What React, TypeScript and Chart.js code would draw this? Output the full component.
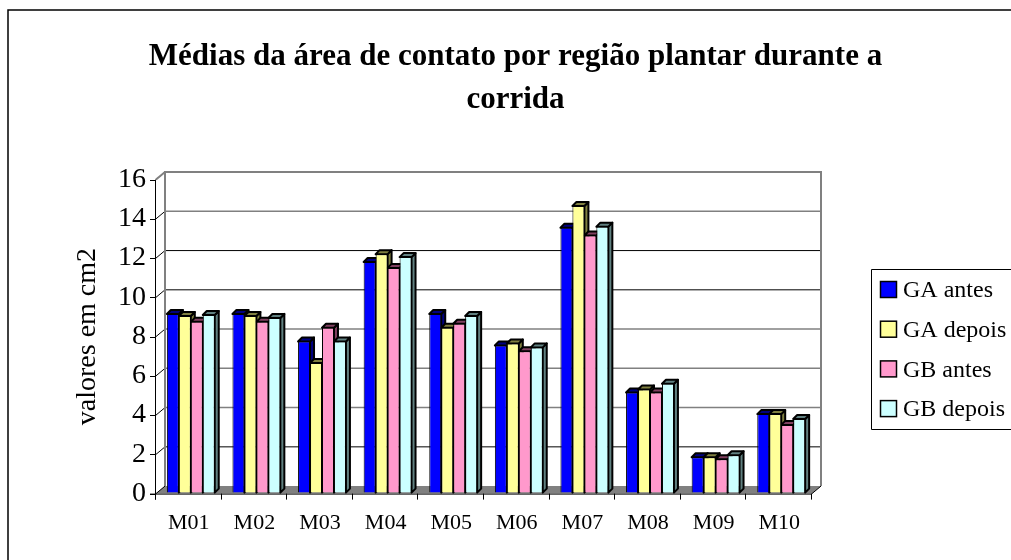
import React, { useEffect, useRef } from "react";
import { Chart, registerables } from "chart.js";

Chart.register(...registerables);

const categories = ["M01", "M02", "M03", "M04", "M05", "M06", "M07", "M08", "M09", "M10"];
const gaAntes = [9.15, 9.15, 7.75, 11.8, 9.15, 7.55, 13.55, 5.15, 1.85, 4.05];
const gaDepois = [9.05, 9.05, 6.65, 12.2, 8.45, 7.65, 14.65, 5.3, 1.85, 4.05];
const gbAntes = [8.75, 8.75, 8.45, 11.5, 8.65, 7.25, 13.15, 5.15, 1.75, 3.5];
const gbDepois = [9.1, 8.95, 7.75, 12.05, 9.05, 7.45, 13.6, 5.6, 1.95, 3.8];
const titleLines = ["Médias da área de contato por região plantar durante a", "corrida"];
const yTitle = "valores em cm2";
const SERIF = "'Liberation Serif', serif";
const DX = 9;
const DY = 7.5;
const BAR_DX = 4;
const BAR_DY = 4;
const BAR_SHIFT = 2;
const blackGrid = [0, 2, 10, 12];

const sideColors = ["#000080", "#808040", "#804060", "#608080"];

const chart3d = {
  id: "chart3d",
  afterDatasetsUpdate(chart: any) {
    chart.data.datasets.forEach((_: any, i: number) => {
      chart.getDatasetMeta(i).data.forEach((b: any) => {
        b.x += BAR_SHIFT;
        b.base -= 1;
      });
    });
  },
  beforeDraw(chart: any) {
    const { ctx } = chart;
    ctx.save();
    ctx.fillStyle = "#fff";
    ctx.fillRect(0, 0, chart.width, chart.height);
    ctx.strokeStyle = "#000";
    ctx.lineWidth = 1.5;
    ctx.beginPath();
    ctx.moveTo(8, chart.height);
    ctx.lineTo(8, 10);
    ctx.lineTo(chart.width, 10);
    ctx.stroke();
    ctx.restore();
  },
  beforeDatasetsDraw(chart: any) {
    const { ctx, chartArea: a, scales } = chart;
    const y = scales.y;
    ctx.save();
    ctx.fillStyle = "#808080";
    ctx.beginPath();
    ctx.moveTo(a.left, a.bottom);
    ctx.lineTo(a.right, a.bottom);
    ctx.lineTo(a.right + DX, a.bottom - DY);
    ctx.lineTo(a.left + DX, a.bottom - DY);
    ctx.closePath();
    ctx.fill();
    y.ticks.forEach((t: any) => {
      const py = y.getPixelForValue(t.value);
      ctx.strokeStyle = blackGrid.includes(t.value) ? "#000" : "#808080";
      ctx.lineWidth = blackGrid.includes(t.value) ? 1 : 1.5;
      if (t.value > 0) {
        ctx.beginPath();
        ctx.moveTo(a.left + DX, py - DY);
        ctx.lineTo(a.right + DX, py - DY);
        ctx.stroke();
      }
      ctx.strokeStyle = "#000";
      ctx.lineWidth = 1;
      ctx.beginPath();
      ctx.moveTo(a.left, py);
      ctx.lineTo(a.left + DX, py - DY);
      ctx.stroke();
    });
    ctx.strokeStyle = "#808080";
    ctx.lineWidth = 2;
    ctx.beginPath();
    ctx.moveTo(a.left + DX, a.bottom - DY);
    ctx.lineTo(a.left + DX, a.top - DY);
    ctx.lineTo(a.right + DX, a.top - DY);
    ctx.lineTo(a.right + DX, a.bottom - DY);
    ctx.stroke();
    ctx.beginPath();
    ctx.moveTo(a.left, a.top);
    ctx.lineTo(a.left + DX, a.top - DY);
    ctx.stroke();
    ctx.lineJoin = "round";
    ctx.lineWidth = 2;
    chart.data.datasets.forEach((_: any, i: number) => {
      chart.getDatasetMeta(i).data.forEach((b: any) => {
        const l = b.x - b.width / 2;
        const r = b.x + b.width / 2;
        ctx.strokeStyle = "#000";
        ctx.fillStyle = sideColors[i];
        ctx.beginPath();
        ctx.moveTo(r, b.y);
        ctx.lineTo(r + BAR_DX, b.y - BAR_DY);
        ctx.lineTo(r + BAR_DX, b.base - BAR_DY);
        ctx.lineTo(r, b.base);
        ctx.closePath();
        ctx.fill();
        ctx.stroke();
        ctx.beginPath();
        ctx.moveTo(l, b.y);
        ctx.lineTo(l + BAR_DX, b.y - BAR_DY);
        ctx.lineTo(r + BAR_DX, b.y - BAR_DY);
        ctx.lineTo(r, b.y);
        ctx.closePath();
        ctx.fill();
        ctx.stroke();
      });
    });
    ctx.restore();
  },
  afterDatasetsDraw(c: any) {
    const { ctx, chartArea: a, scales } = c;
    ctx.save();
    ctx.strokeStyle = "#000";
    ctx.lineWidth = 1;
    ctx.beginPath();
    ctx.moveTo(a.left - 0.5, a.top);
    ctx.lineTo(a.left - 0.5, a.bottom + 6);
    ctx.moveTo(a.left - 6, a.bottom + 0.5);
    ctx.lineTo(a.right, a.bottom + 0.5);
    scales.y.ticks.forEach((t: any) => {
      const py = Math.round(scales.y.getPixelForValue(t.value)) + 0.5;
      ctx.moveTo(a.left - 6, py);
      ctx.lineTo(a.left, py);
    });
    const n = categories.length;
    for (let i = 0; i <= n; i++) {
      const px = Math.round(a.left + ((a.right - a.left) * i) / n) - 0.5;
      ctx.moveTo(px, a.bottom);
      ctx.lineTo(px, a.bottom + 6);
    }
    ctx.moveTo(a.right, a.bottom);
    ctx.lineTo(a.right + DX, a.bottom - DY);
    ctx.stroke();
    ctx.restore();
  },
  afterDraw(chart: any) {
    const { ctx } = chart;
    ctx.save();
    ctx.strokeStyle = "#000";
    ctx.lineWidth = 1;
    ctx.beginPath();
    ctx.moveTo(chart.width, 269.5);
    ctx.lineTo(871.5, 269.5);
    ctx.lineTo(871.5, 429.5);
    ctx.lineTo(chart.width, 429.5);
    ctx.stroke();
    ctx.font = "24px " + SERIF;
    ctx.textBaseline = "middle";
    ctx.textAlign = "left";
    chart.data.datasets.forEach((d: any, i: number) => {
      const cy = 290 + i * 39.7;
      ctx.fillStyle = d.backgroundColor;
      ctx.fillRect(880.5, cy - 8.5, 16, 16);
      ctx.lineWidth = 1.5;
      ctx.strokeRect(880.5, cy - 8.5, 16, 16);
      ctx.fillStyle = "#000";
      ctx.fillText(d.label, 903, cy + 1);
    });
    ctx.restore();
  },
};

export default function App() {
  const ref = useRef<HTMLCanvasElement | null>(null);
  useEffect(() => {
    document.body.style.margin = "0";
    const chart = new Chart(ref.current as HTMLCanvasElement, {
      type: "bar",
      data: {
        labels: categories,
        datasets: [
          { label: "GA antes", data: gaAntes, backgroundColor: "#0000ff" },
          { label: "GA depois", data: gaDepois, backgroundColor: "#ffff99" },
          { label: "GB antes", data: gbAntes, backgroundColor: "#ff99cc" },
          { label: "GB depois", data: gbDepois, backgroundColor: "#ccffff" },
        ].map((d) => ({
          ...d,
          borderColor: "#000",
          borderWidth: 1,
          categoryPercentage: 0.73,
          barPercentage: 1,
        })),
      },
      options: {
        animation: false,
        responsive: false,
        layout: { padding: { left: 20, top: 36, right: 0, bottom: 8 } },
        plugins: {
          title: {
            display: true,
            text: titleLines,
            color: "#000",
            font: { family: SERIF, size: 31, weight: "bold", lineHeight: 1.38 },
            padding: { top: 0, bottom: 58 },
          },
          legend: { display: false },
          tooltip: { enabled: false },
        },
        scales: {
          x: {
            grid: { display: false, drawTicks: false },
            border: { display: false },
            ticks: { color: "#000", font: { family: SERIF, size: 22 }, padding: 16, maxRotation: 0 },
          },
          y: {
            min: 0,
            max: 16,
            grid: { display: false },
            border: { display: false },
            ticks: { stepSize: 2, color: "#000", font: { family: SERIF, size: 28 }, padding: 2 },
            title: {
              display: true,
              text: yTitle,
              color: "#000",
              font: { family: SERIF, size: 28 },
              padding: { top: 51, bottom: 0 },
            },
            afterFit(s: any) {
              s.width = 136;
            },
          },
          gap: {
            position: "right",
            display: true,
            grid: { display: false },
            border: { display: false },
            ticks: { display: false },
            afterFit(s: any) {
              s.width = 199;
            },
          },
        },
      } as any,
      plugins: [chart3d],
    });
    return () => chart.destroy();
  }, []);
  return (
    <canvas
      ref={ref}
      width={1011}
      height={560}
      style={{ display: "block", width: 1011, height: 560 }}
    />
  );
}
